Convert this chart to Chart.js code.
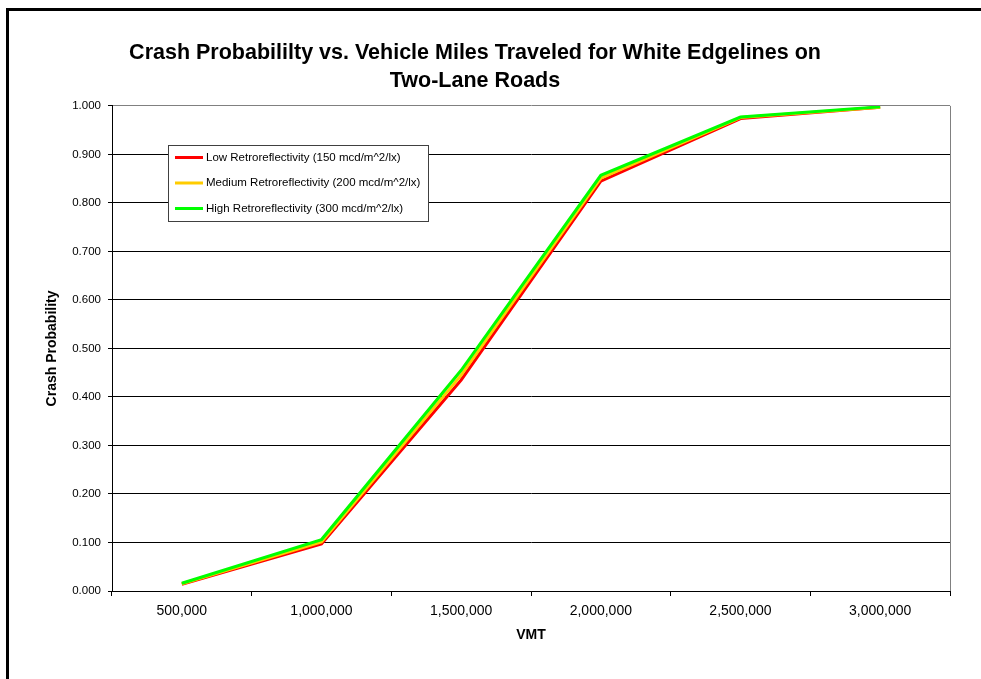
<!DOCTYPE html>
<html>
<head>
<meta charset="utf-8">
<script src="https://cdn.jsdelivr.net/npm/chart.js@4/dist/chart.umd.min.js"></script>
<style>
  body { margin: 0; background: #fff; }
  canvas { display: block; }
</style>
</head>
<body>
<canvas id="chartCanvas" width="981" height="679"></canvas>
<script>
// values
const vmtLabels = ['500,000', '1,000,000', '1,500,000', '2,000,000', '2,500,000', '3,000,000'];
const lowRetro = [0.014, 0.097, 0.435, 0.845, 0.974, 0.997];
const mediumRetro = [0.015, 0.101, 0.445, 0.851, 0.976, 0.997];
const highRetro = [0.016, 0.106, 0.455, 0.857, 0.977, 0.998];
const seriesNames = [
  'Low Retroreflectivity (150 mcd/m^2/lx)',
  'Medium Retroreflectivity (200 mcd/m^2/lx)',
  'High Retroreflectivity (300 mcd/m^2/lx)'
];
const seriesColors = ['#FF0000', '#FFCC00', '#00FF00'];
const titleLines = [
  'Crash Probabililty vs. Vehicle Miles Traveled for White Edgelines on',
  'Two-Lane Roads'
];

const FONT = "'Liberation Sans', Arial, sans-serif";

// white page + the thick black frame of the chart object
const framePlugin = {
  id: 'frame',
  beforeDraw(chart) {
    const ctx = chart.ctx;
    ctx.save();
    ctx.fillStyle = '#fff';
    ctx.fillRect(0, 0, chart.width, chart.height);
    ctx.fillStyle = '#000';
    ctx.fillRect(6, 8, 3, chart.height);
    ctx.fillRect(6, 8, chart.width, 3);
    ctx.restore();
  }
};

// grey right edge of the plot area
const plotBorderPlugin = {
  id: 'plotBorder',
  beforeDatasetsDraw(chart) {
    const { ctx, chartArea } = chart;
    ctx.save();
    ctx.strokeStyle = '#808080';
    ctx.lineWidth = 1;
    ctx.beginPath();
    ctx.moveTo(chartArea.right + 0.5, chartArea.top);
    ctx.lineTo(chartArea.right + 0.5, chartArea.bottom);
    ctx.stroke();
    ctx.restore();
  }
};

// boxed legend sitting inside the plot, like the Excel original
const boxLegendPlugin = {
  id: 'boxLegend',
  afterDatasetsDraw(chart) {
    const ctx = chart.ctx;
    const x = 168, y = 145, w = 260, h = 76;
    ctx.save();
    ctx.fillStyle = '#fff';
    ctx.fillRect(x, y, w, h);
    ctx.strokeStyle = '#404040';
    ctx.lineWidth = 1;
    ctx.strokeRect(x + 0.5, y + 0.5, w, h);
    ctx.font = '11.5px ' + FONT;
    ctx.textBaseline = 'middle';
    ctx.fillStyle = '#000';
    chart.data.datasets.forEach((ds, i) => {
      const rowY = y + 12.5 + i * 25.5;
      ctx.strokeStyle = ds.borderColor;
      ctx.lineWidth = 3;
      ctx.beginPath();
      ctx.moveTo(x + 7, rowY);
      ctx.lineTo(x + 35, rowY);
      ctx.stroke();
      ctx.fillText(ds.label, x + 38, rowY);
    });
    ctx.restore();
  }
};

const makeSet = (i, data) => ({
  label: seriesNames[i],
  data: data,
  borderColor: seriesColors[i],
  backgroundColor: seriesColors[i],
  borderWidth: 3,
  pointRadius: 0,
  tension: 0,
  order: 3 - i
});

new Chart(document.getElementById('chartCanvas').getContext('2d'), {
  type: 'line',
  data: {
    labels: vmtLabels,
    datasets: [makeSet(0, lowRetro), makeSet(1, mediumRetro), makeSet(2, highRetro)]
  },
  plugins: [framePlugin, plotBorderPlugin, boxLegendPlugin],
  options: {
    responsive: false,
    animation: false,
    layout: { padding: { left: 0, right: 31, top: 0, bottom: 0 } },
    plugins: {
      legend: { display: false },
      tooltip: { enabled: false },
      title: {
        display: true,
        text: titleLines,
        color: '#000',
        font: { family: FONT, size: 21.5, weight: 'bold', lineHeight: 1.3 },
        padding: { top: 39, bottom: 11 }
      }
    },
    scales: {
      x: {
        type: 'category',
        offset: true,
        grid: { offset: true, drawOnChartArea: false, tickLength: 5, color: '#000' },
        border: { color: '#000', width: 1 },
        ticks: {
          color: '#000',
          font: { family: FONT, size: 14 },
          maxRotation: 0,
          autoSkip: false,
          padding: 7
        },
        title: {
          display: true,
          text: 'VMT',
          color: '#000',
          font: { family: FONT, size: 14, weight: 'bold' },
          padding: { top: 0, bottom: 35 }
        },
        afterFit(scale) { scale.height = 88; }
      },
      y: {
        min: 0,
        max: 1,
        grid: {
          color: c => (c.tick && c.tick.value >= 0.9999 ? '#808080' : '#000'),
          tickColor: '#000',
          tickLength: 4
        },
        border: { color: '#000', width: 1 },
        ticks: {
          stepSize: 0.1,
          color: '#000',
          font: { family: FONT, size: 11.5 },
          padding: 7,
          callback: v => v.toFixed(3)
        },
        title: {
          display: true,
          text: 'Crash Probability',
          color: '#000',
          font: { family: FONT, size: 14, weight: 'bold' },
          padding: { top: 44, bottom: 0 }
        },
        afterFit(scale) { scale.width = 112; }
      }
    }
  }
});
</script>
</body>
</html>
